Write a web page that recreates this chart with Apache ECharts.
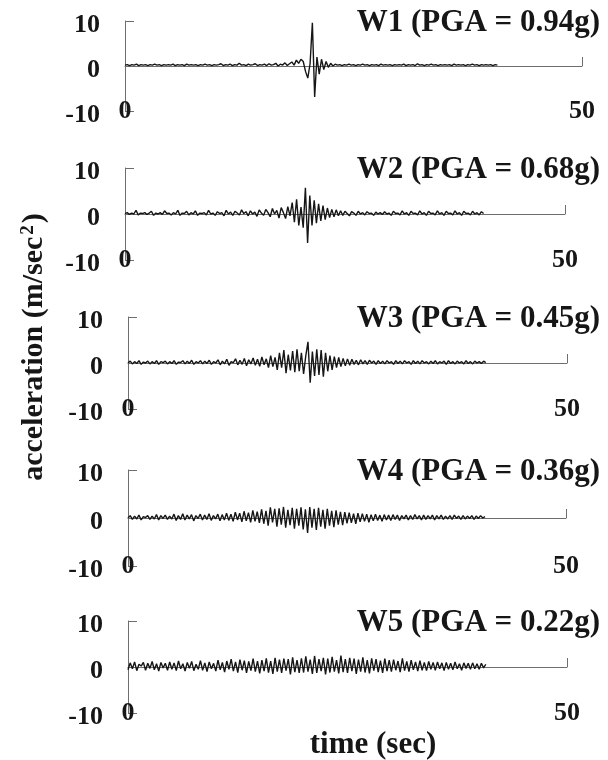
<!DOCTYPE html>
<html>
<head>
<meta charset="utf-8">
<title></title>
<script src="https://cdn.jsdelivr.net/npm/echarts@6.0.0/dist/echarts.min.js"></script>
<style>
*{ padding:0; margin:0; }
body{ background:#ffffff; }
#main{ width:608px; height:760px; }
</style>
</head>
<body>
<div id="main"></div>
<script>
// sample step of the records (sec)
var dt = 0.25;
var xTicks = [0, 50];
var yTicks = [-10, 0, 10];
var names = ['W1 (PGA = 0.94g)', 'W2 (PGA = 0.68g)', 'W3 (PGA = 0.45g)', 'W4 (PGA = 0.36g)', 'W5 (PGA = 0.22g)'];

// acceleration (m/sec2), one value every 0.25 s from 0 to 40.75 s
var w1 = [
    0.2,0.3,0.1,0.3,0.2,0.4,0.1,0.3,0.2,0.3,0.1,0.3,0.2,0.4,0.2,0.3,0.1,0.3,0.2,0.3,
    0.2,0.4,0.1,0.3,0.2,0.3,0.1,0.4,0.2,0.3,0.2,0.3,0.1,0.3,0.2,0.4,0.2,0.3,0.1,0.3,
    0.2,0.3,0.5,0.1,0.3,0.2,0.4,0.1,0.3,0.2,0.6,0.2,0.3,0.1,0.4,0.2,0.3,0.5,0.1,0.3,
    0.2,0.4,0.1,0.5,0.2,0.3,0.6,0.0,0.4,0.2,0.7,0.1,0.5,0.9,0.2,1.3,0.6,1.5,1.0,-1.2,
    -2.7,0.5,9.6,-6.9,2.0,-1.8,1.5,-0.8,1.0,-0.3,0.6,0.0,0.4,0.2,0.3,0.1,0.3,0.2,0.4,0.2,
    0.3,0.1,0.3,0.2,0.4,0.2,0.3,0.1,0.3,0.2,0.3,0.1,0.4,0.2,0.3,0.2,0.3,0.1,0.3,0.2,
    0.3,0.2,0.4,0.1,0.3,0.2,0.3,0.1,0.5,0.2,0.3,0.1,0.3,0.2,0.4,0.2,0.3,0.1,0.3,0.2,
    0.3,0.2,0.3,0.1,0.4,0.2,0.3,0.2,0.3,0.1,0.3,0.2,0.4,0.2,0.3,0.1,0.3,0.2,0.3,0.2,
    0.3,0.1,0.3,0.2
];
var w2 = [
    0.1,0.3,-0.1,0.2,0.0,0.8,-0.2,0.2,0.1,0.3,-0.1,0.2,0.6,-0.3,0.2,0.0,0.3,-0.1,0.7,0.1,
    0.2,-0.2,0.3,0.0,0.8,-0.3,0.2,0.1,0.6,-0.2,0.3,0.0,0.7,-0.3,0.2,0.1,0.3,-0.2,0.8,0.0,
    0.2,-0.3,0.5,0.1,0.3,-0.4,0.8,0.0,0.4,-0.3,0.6,0.2,-0.2,0.9,0.1,0.5,-0.4,0.7,0.0,0.4,
    -0.5,0.9,0.2,-0.3,1.0,0.3,-0.6,1.2,0.0,0.8,-0.9,1.4,0.3,-1.0,1.6,-0.4,2.5,-1.8,3.2,-2.5,
    1.5,-3.0,5.7,-6.3,4.0,-2.5,3.0,-2.0,2.2,-1.5,1.8,-1.2,1.3,-0.8,1.0,-0.6,0.9,-0.4,0.7,-0.3,
    0.6,0.1,-0.4,0.5,0.2,-0.3,0.6,0.0,0.3,-0.2,0.5,0.1,0.2,-0.3,0.4,0.0,0.3,-0.1,0.5,0.0,
    0.2,-0.3,0.6,0.1,0.2,-0.2,0.7,0.0,0.3,-0.3,0.6,0.1,0.2,-0.2,0.7,0.0,0.3,-0.3,0.6,0.1,
    0.2,-0.2,0.7,0.0,0.3,-0.3,0.6,0.1,0.2,-0.2,0.7,0.0,0.3,-0.3,0.6,0.1,0.2,-0.2,0.6,0.0,
    0.3,-0.2,0.5,0.1
];
var w3 = [
    0.0,0.4,-0.2,0.3,-0.1,0.5,-0.3,0.2,0.0,0.4,-0.2,0.3,-0.1,0.5,-0.3,0.3,0.1,0.4,-0.2,0.3,
    -0.1,0.5,-0.3,0.2,0.1,0.5,-0.2,0.4,-0.1,0.6,-0.3,0.3,0.0,0.5,-0.2,0.4,-0.1,0.6,-0.3,0.3,
    0.0,0.7,-0.4,0.4,-0.2,0.8,-0.5,0.3,0.1,0.9,-0.4,0.6,-0.3,1.0,-0.6,0.7,-0.2,1.1,-0.5,0.8,
    -0.7,1.3,-0.4,0.9,-1.0,1.6,-0.8,1.2,-1.5,2.2,-1.0,2.8,-2.2,1.8,-1.6,2.6,-2.0,3.0,-1.8,2.2,
    -2.4,1.6,4.6,-4.3,2.5,-2.8,3.0,-2.6,2.8,-3.0,2.2,-1.8,1.6,-1.5,1.4,-1.0,1.2,-0.8,1.0,-0.6,
    0.9,-0.5,0.8,-0.3,0.6,-0.4,0.7,-0.2,0.5,-0.3,0.6,0.0,0.4,-0.3,0.5,-0.1,0.4,-0.2,0.5,0.0,
    0.3,-0.3,0.5,-0.1,0.4,-0.2,0.5,0.0,0.3,-0.3,0.5,-0.1,0.4,-0.2,0.5,0.0,0.3,-0.2,0.4,-0.1,
    0.5,-0.2,0.3,0.0,0.4,-0.3,0.5,-0.1,0.3,-0.2,0.4,0.0,0.3,-0.2,0.5,-0.1,0.3,-0.2,0.4,0.0,
    0.3,-0.1,0.4,0.1
];
var w4 = [
    0.0,0.5,-0.3,0.4,-0.2,0.6,-0.4,0.3,0.1,0.5,-0.3,0.4,-0.2,0.7,-0.4,0.5,-0.1,0.6,-0.3,0.4,
    -0.2,0.8,-0.5,0.5,-0.3,0.9,-0.4,0.6,-0.2,0.7,-0.6,0.5,-0.1,0.8,-0.4,0.6,-0.3,0.9,-0.5,0.5,
    -0.2,0.8,-0.6,0.7,-0.4,1.0,-0.5,0.8,-0.7,1.2,-0.4,1.0,-0.8,1.4,-0.6,1.1,-0.9,1.6,-0.7,1.3,
    -1.0,1.8,-1.2,1.5,-1.6,2.2,-0.9,1.9,-1.8,2.0,-1.4,2.3,-2.0,1.7,-1.5,2.1,-2.2,1.9,-1.6,2.2,
    -2.4,1.8,-3.1,2.3,-2.0,1.9,-2.5,2.1,-1.8,1.7,-2.2,1.9,-1.6,1.5,-1.9,1.6,-1.4,1.3,-1.5,1.2,
    -1.1,1.1,-1.0,0.9,-1.2,1.0,-0.8,0.9,-0.7,0.8,-0.9,0.7,-0.6,0.8,-0.5,0.6,-0.7,0.7,-0.4,0.6,
    -0.5,0.7,-0.3,0.6,-0.5,0.5,-0.2,0.6,-0.4,0.5,-0.3,0.7,-0.2,0.5,-0.4,0.6,-0.3,0.5,-0.2,0.6,
    -0.4,0.5,-0.2,0.6,-0.3,0.4,-0.2,0.5,-0.3,0.6,-0.1,0.4,-0.3,0.5,-0.2,0.4,-0.1,0.5,-0.3,0.4,
    -0.1,0.5,0.0,0.3
];
var w5 = [
    -0.6,0.9,-0.4,1.1,-0.8,0.6,0.2,1.0,-0.7,0.8,-0.3,1.2,-0.6,0.7,-0.9,1.0,-0.2,0.8,-0.7,1.1,
    -0.5,0.9,-0.8,1.3,-0.4,0.7,-0.9,1.0,-0.3,1.2,-0.8,0.6,-0.5,1.4,-0.7,0.9,-1.0,1.1,-0.4,0.8,
    -0.9,1.5,-0.6,1.0,-1.1,1.3,-0.5,1.7,-0.9,1.1,-1.2,1.6,-0.7,1.4,-1.3,1.2,-0.8,1.8,-1.0,1.3,
    -1.4,1.5,-0.9,1.9,-1.2,1.3,-1.5,2.0,-1.0,1.6,-1.3,1.8,-0.8,1.7,-1.6,2.1,-1.1,1.5,-1.3,1.9,
    -1.2,2.3,-1.0,1.6,-1.5,2.4,-1.3,1.7,-0.9,2.0,-1.6,1.8,-1.2,2.2,-1.0,1.5,-1.4,2.5,-1.1,1.7,
    -1.3,2.0,-0.9,1.8,-1.5,1.6,-1.0,2.1,-1.2,1.5,-1.4,1.9,-0.8,1.7,-1.1,1.4,-1.3,1.8,-0.9,1.5,
    -1.0,1.6,-0.7,1.3,-1.1,1.9,-0.8,1.2,-1.0,1.5,-0.6,1.1,-0.9,1.4,-0.7,1.0,-0.8,1.2,-0.5,1.0,
    -0.7,1.1,-0.4,0.9,-0.8,1.0,-0.5,0.8,-0.6,1.1,-0.4,0.7,-0.7,0.9,-0.3,0.8,-0.5,0.9,-0.4,0.7,
    -0.5,0.8,-0.2,0.6
];
var records = [w1, w2, w3, w4, w5];

// panel boxes (px)
var panels = [
    {left: 125, top: 21,  width: 457, height: 90},
    {left: 125, top: 168, width: 440, height: 92},
    {left: 128, top: 317, width: 439, height: 92},
    {left: 128, top: 470, width: 438, height: 96},
    {left: 128, top: 621, width: 439, height: 92}
];

var serif = 'Liberation Serif';
var ink = '#161616';
var axisGray = '#6e6e6e';

var grids = [], xAxes = [], labelAxes = [], yAxes = [], series = [], graphics = [];

panels.forEach(function (p, i) {
    grids.push({left: p.left, top: p.top, width: p.width, height: p.height, containLabel: false});

    // axis line through zero, with the small tick at 50
    xAxes.push({
        type: 'value', gridIndex: i, position: 'bottom',
        min: xTicks[0], max: xTicks[1], interval: xTicks[1] - xTicks[0],
        axisLine: {show: true, onZero: true, lineStyle: {color: axisGray, width: 1}},
        axisTick: {show: true, inside: true, length: 9, lineStyle: {color: axisGray}},
        axisLabel: {show: false},
        splitLine: {show: false}
    });
    // time labels at the foot of the panel
    labelAxes.push({
        type: 'value', gridIndex: i, position: 'bottom',
        min: xTicks[0], max: xTicks[1], interval: xTicks[1] - xTicks[0],
        axisLine: {show: false, onZero: false},
        axisTick: {show: false},
        axisLabel: {
            show: true, showMinLabel: true, showMaxLabel: true,
            margin: 0, verticalAlign: 'middle',
            fontFamily: serif, fontWeight: 'bold', fontSize: 26, color: ink
        },
        splitLine: {show: false}
    });
    yAxes.push({
        type: 'value', gridIndex: i,
        min: yTicks[0], max: yTicks[2], interval: 10,
        axisLine: {show: true, onZero: false, lineStyle: {color: axisGray, width: 1}},
        axisTick: {show: true, inside: true, length: 9, lineStyle: {color: axisGray}},
        axisLabel: {
            margin: 25,
            formatter: '{v|{value}}',
            rich: {
                v: {
                    fontFamily: serif, fontWeight: 'bold', fontSize: 26, color: ink,
                    padding: [9, 0, 0, 0]
                }
            }
        },
        splitLine: {show: false}
    });
    series.push({
        type: 'line', xAxisIndex: i, yAxisIndex: i,
        symbol: 'none', silent: true,
        lineStyle: {color: ink, width: 1.4},
        data: records[i].map(function (v, k) { return [k * dt, v]; })
    });
    graphics.push({
        type: 'text', x: 600, y: p.top + 2,
        style: {
            text: names[i], align: 'right', verticalAlign: 'middle',
            font: 'bold 31px "' + serif + '"', fill: ink
        }
    });
});

graphics.push({
    type: 'text', x: 34, y: 347, rotation: Math.PI / 2,
    style: {
        text: '{a|acceleration (m/sec}{s|2}{a|)}',
        align: 'center', verticalAlign: 'middle',
        rich: {
            a: {font: 'bold 30px "' + serif + '"', fill: ink, verticalAlign: 'bottom'},
            s: {font: 'bold 19px "' + serif + '"', fill: ink, verticalAlign: 'top', padding: [0, 2, 0, 2]}
        }
    }
});
graphics.push({
    type: 'text', x: 373, y: 745,
    style: {
        text: 'time (sec)', align: 'center', verticalAlign: 'middle',
        font: 'bold 31px "' + serif + '"', fill: ink
    }
});

var chart = echarts.init(document.getElementById('main'), null, {renderer: 'canvas'});
chart.setOption({
    animation: false,
    backgroundColor: '#ffffff',
    grid: grids,
    xAxis: xAxes.concat(labelAxes),
    yAxis: yAxes,
    series: series,
    graphic: graphics
});
</script>
</body>
</html>
